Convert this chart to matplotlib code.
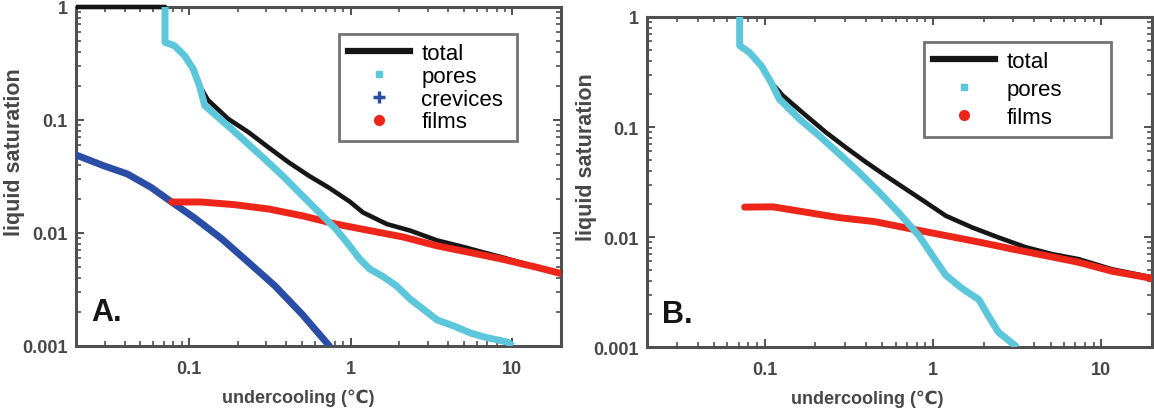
import matplotlib
matplotlib.use("Agg")
import matplotlib.pyplot as plt
from matplotlib.lines import Line2D
from matplotlib.ticker import LogLocator, FuncFormatter, NullFormatter

plt.rcParams['font.family'] = ['Liberation Sans', 'DejaVu Sans']

# panel A (with crevices)
total_x_A = [0.02, 0.071, 0.071, 0.081, 0.094, 0.106, 0.116, 0.131, 0.175, 0.233, 0.311, 0.415,
             0.553, 0.738, 0.984, 1.19, 1.67, 2.33, 3.42, 5.02, 6.7, 9.0, 14, 20]
total_y_A = [1, 1, 0.487, 0.455, 0.37, 0.283, 0.201, 0.15, 0.102, 0.078, 0.057, 0.042,
             0.032, 0.025, 0.019, 0.0152, 0.012, 0.0105, 0.0086, 0.0075, 0.0067, 0.006, 0.005, 0.0044]
pores_x_A = [0.071, 0.071, 0.081, 0.094, 0.106, 0.116, 0.125, 0.18, 0.28, 0.38, 0.502, 0.638, 0.811,
             0.984, 1.135, 1.31, 1.59, 1.92, 2.33, 2.83, 3.42, 4.35, 5.53, 6.7, 9.4, 10]
pores_y_A = [1, 0.487, 0.455, 0.37, 0.283, 0.201, 0.134, 0.085, 0.048, 0.032, 0.0214, 0.0152, 0.0108,
             0.0077, 0.0059, 0.0048, 0.0041, 0.0034, 0.0026, 0.0021, 0.0017, 0.0015, 0.0013, 0.0012, 0.00108, 0.001]
crev_x_A = [0.02, 0.0296, 0.0415, 0.058, 0.078, 0.108, 0.159, 0.233, 0.34, 0.502, 0.738]
crev_y_A = [0.049, 0.0394, 0.0333, 0.0254, 0.0188, 0.0136, 0.0089, 0.0055, 0.0034, 0.0019, 0.001]
films_x_A = [0.078, 0.119, 0.192, 0.311, 0.502, 0.81, 1.31, 2.12, 3.42, 5.53, 8.5, 13.9, 19.7]
films_y_A = [0.0188, 0.0188, 0.0178, 0.0163, 0.0142, 0.012, 0.0105, 0.0092, 0.0077, 0.0067, 0.0059, 0.005, 0.0044]

# panel B (no crevices)
total_x_B = [0.071, 0.071, 0.081, 0.0955, 0.109, 0.128, 0.176, 0.231, 0.304, 0.399, 0.524, 0.688,
             0.904, 1.19, 1.71, 2.45, 3.53, 5.08, 7.3, 11.5, 20]
total_y_B = [1, 0.55, 0.477, 0.36, 0.255, 0.193, 0.127, 0.0895, 0.065, 0.048, 0.036, 0.0273,
             0.0207, 0.0156, 0.0122, 0.0099, 0.0081, 0.007, 0.0063, 0.0051, 0.0043]
pores_x_B = [0.071, 0.071, 0.081, 0.0955, 0.109, 0.122, 0.161, 0.211, 0.277, 0.364, 0.479, 0.628,
             0.824, 0.99, 1.19, 1.49, 1.87, 2.14, 2.45, 3.15]
pores_y_B = [1, 0.55, 0.477, 0.36, 0.255, 0.18, 0.118, 0.083, 0.057, 0.0387, 0.0255, 0.0165,
             0.0103, 0.0068, 0.0045, 0.0034, 0.0027, 0.0019, 0.00136, 0.001]
films_x_B = [0.076, 0.112, 0.176, 0.277, 0.45, 0.753, 1.19, 1.87, 2.93, 4.6, 7.3, 11.5, 20]
films_y_B = [0.0187, 0.0188, 0.0168, 0.015, 0.0138, 0.0118, 0.0103, 0.009, 0.0078, 0.0068, 0.0059, 0.0049, 0.0042]

C_TOTAL = "#161616"
C_PORES = "#5cc6da"
C_CREV = "#2a4da5"
C_FILMS = "#ee2519"
GREY = "#505050"


def style_axes(ax):
    ax.set_xscale("log")
    ax.set_yscale("log")
    ax.set_xlim(0.02, 20)
    ax.set_ylim(0.001, 1)
    for sp in ax.spines.values():
        sp.set_color(GREY)
        sp.set_linewidth(2.2)
        sp.set_zorder(1)
    ax.xaxis.set_major_locator(LogLocator(base=10, numticks=10))
    ax.yaxis.set_major_locator(LogLocator(base=10, numticks=10))
    ax.xaxis.set_minor_locator(LogLocator(base=10, subs=range(2, 10), numticks=10))
    ax.yaxis.set_minor_locator(LogLocator(base=10, subs=range(2, 10), numticks=10))
    fmt = FuncFormatter(lambda v, p: "%g" % v)
    ax.xaxis.set_major_formatter(fmt)
    ax.yaxis.set_major_formatter(fmt)
    ax.xaxis.set_minor_formatter(NullFormatter())
    ax.yaxis.set_minor_formatter(NullFormatter())
    ax.tick_params(which="both", direction="in", top=True, right=True, color=GREY)
    ax.tick_params(which="major", length=6, width=1.4)
    ax.tick_params(which="minor", length=3.5, width=1.2)
    ax.tick_params(axis="x", pad=10)
    ax.tick_params(axis="y", pad=6)
    for lab in ax.get_xticklabels() + ax.get_yticklabels():
        lab.set_fontsize(13)
        lab.set_fontweight("bold")
        lab.set_color("#474747")
    ax.set_xlabel("undercooling (\u2103)", fontsize=13, fontweight="bold", color="#474747")
    ax.set_ylabel("liquid saturation", fontsize=15.5, fontweight="bold", color="#474747")


fig = plt.figure(figsize=(11.54, 4.10), dpi=100)
axA = fig.add_axes([0.0659, 0.1537, 0.4203, 0.8268])
axB = fig.add_axes([0.5607, 0.1512, 0.4376, 0.8049])

# panel A
axA.plot(total_x_A, total_y_A, color=C_TOTAL, lw=3.3, solid_capstyle="butt", zorder=2, clip_on=False)
axA.plot(crev_x_A, crev_y_A, color=C_CREV, lw=5, solid_capstyle="round", solid_joinstyle="round", zorder=3)
axA.plot(films_x_A, films_y_A, color=C_FILMS, lw=5, solid_capstyle="round", solid_joinstyle="round", zorder=4)
axA.plot(pores_x_A, pores_y_A, color=C_PORES, lw=5, solid_capstyle="butt", solid_joinstyle="round", zorder=5)

# panel B
axB.plot(total_x_B, total_y_B, color=C_TOTAL, lw=3.3, solid_capstyle="butt", zorder=2)
axB.plot(films_x_B, films_y_B, color=C_FILMS, lw=5, solid_capstyle="round", solid_joinstyle="round", zorder=4)
axB.plot(pores_x_B, pores_y_B, color=C_PORES, lw=5, solid_capstyle="butt", solid_joinstyle="round", zorder=5)

h_total = Line2D([], [], color=C_TOTAL, lw=4.5)
h_pores = Line2D([], [], color=C_PORES, ls="none", marker="s", ms=4)
h_crev = Line2D([], [], color=C_CREV, ls="none", marker="+", ms=8, mew=2.5)
h_films = Line2D([], [], color=C_FILMS, ls="none", marker="o", ms=7)

# legend boxes: (left, top, width) in axes coords
for ax, handles, labels, box, ysp in [
    (axA, [h_total, h_pores, h_crev, h_films], ["total", "pores", "crevices", "films"], (0.542, 0.92, 0.367), 0.08),
    (axB, [h_total, h_pores, h_films], ["total", "pores", "films"], (0.549, 0.924, 0.37), 0.32),
]:
    style_axes(ax)
    leg = ax.legend(handles, labels, loc="upper left",
                    bbox_to_anchor=(box[0], box[1] - 0.01, box[2], 0.01), mode="expand",
                    fontsize=16, frameon=True, fancybox=False, handlelength=2.8,
                    handletextpad=0.5, labelspacing=ysp, borderpad=0.4,
                    borderaxespad=0)
    leg.get_frame().set_edgecolor(GREY)
    leg.get_frame().set_linewidth(2.0)
    leg.set_zorder(10)

axA.xaxis.set_label_coords(0.458, -0.125)
axB.xaxis.set_label_coords(0.437, -0.128)
axA.yaxis.set_label_coords(-0.105, 0.575)
axB.yaxis.set_label_coords(-0.1, 0.577)

axA.text(0.031, 0.077, "A.", transform=axA.transAxes, fontsize=22, fontweight="bold", color="#161616")
axB.text(0.03, 0.076, "B.", transform=axB.transAxes, fontsize=22, fontweight="bold", color="#161616")

fig.savefig("out.png", dpi=100)
